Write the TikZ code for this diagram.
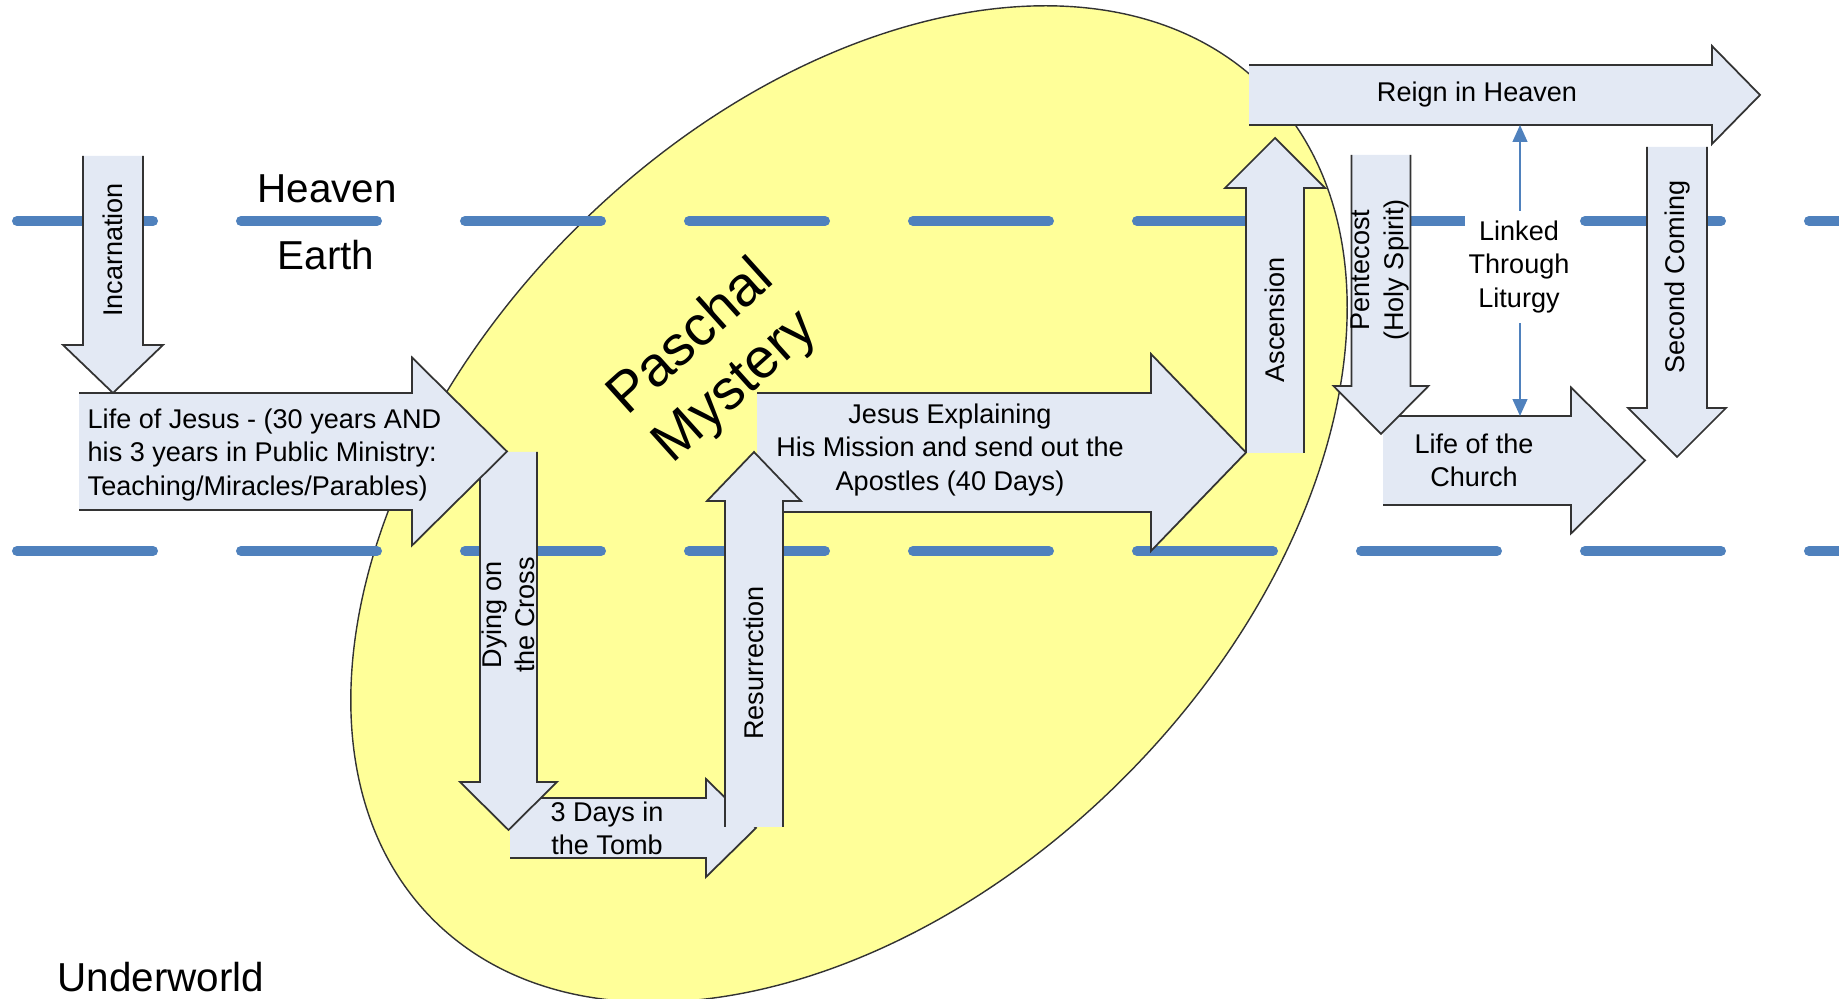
\documentclass[tikz,border=0pt]{standalone}
\usepackage{fontspec}
\setmainfont{Liberation Sans}
\usetikzlibrary{arrows.meta}

\definecolor{azullinha}{RGB}{79,129,189}
\definecolor{azulseta}{RGB}{227,233,244}
\definecolor{amarelo}{RGB}{255,255,153}

\tikzset{
  fundoseta/.style={fill=azulseta},
  bordaseta/.style={draw=black!80, line width=0.5pt},
  divisa/.style={azullinha, line width=2.85pt, line cap=round, dash pattern=on 13.6mm off 8.8mm},
  rotulo/.style={inner sep=0pt, align=center, font=\fontsize{7.7}{9.4}\selectfont},
  regiao/.style={inner sep=0pt, font=\fontsize{11.5}{13}\selectfont},
  ligacao/.style={azullinha, line width=0.5pt, {Triangle[length=4.8pt,width=4.2pt]}-{Triangle[length=4.8pt,width=4.2pt]}}
}

%Seta: #1 cauda, #2 comprimento, #3 cabeca, #4 meia haste, #5 meia cabeca, #6 angulo
\newcommand{\seta}[6]{%
  \fill[fundoseta, shift={#1}, rotate=#6] (0,-#4) -- ({#2-#3},-#4) -- ({#2-#3},-#5) -- (#2,0) -- ({#2-#3},#5) -- ({#2-#3},#4) -- (0,#4) -- cycle;
  \draw[bordaseta, shift={#1}, rotate=#6] (0,-#4) -- ({#2-#3},-#4) -- ({#2-#3},-#5) -- (#2,0) -- ({#2-#3},#5) -- ({#2-#3},#4) -- (0,#4);
}

\begin{document}
\begin{tikzpicture}[x=0.1mm, y=-0.1mm] %Coordenadas em pixels
	\useasboundingbox (0,0) rectangle (1839,999);
		%Misterio pascal
	\draw[fill=amarelo, draw=black!80, line width=0.4pt, rotate around={45:(849,504)}] (849,504) ellipse [x radius=588, y radius=388];
		%Divisas
	\draw[divisa] (17,221) -- (1839,221); %Ceu e Terra
	\draw[divisa] (17,551) -- (1839,551); %Terra e mundo inferior
		%Setas
	\seta{(113,156)}{237}{48}{30}{50}{-90} %Encarnacao
	\seta{(510,828)}{246}{50}{30}{49}{0} %Tres dias
	\seta{(508.5,452)}{378}{48}{28.5}{48.5}{-90} %Morte na cruz
	\seta{(79,451.5)}{428}{95}{58.5}{94}{0} %Vida de Jesus
	\seta{(757,452.5)}{489}{95}{59.5}{98.5}{0} %Missao
	\seta{(754,827)}{375}{49}{29}{47}{90} %Ressurreicao
	\seta{(1275,453)}{315}{50}{29}{50}{90} %Ascensao
	\seta{(1249,95)}{511}{48}{30}{49}{0} %Reino
	\seta{(1383,460.5)}{262}{74}{44.5}{73}{0} %Igreja
	\seta{(1381,155)}{279}{48}{29.5}{47.5}{-90} %Pentecostes
	\seta{(1677,147)}{310}{49}{30}{49}{-90} %Segunda vinda
		%Ligacao pela liturgia
	\coordinate (ligtopo) at (1520,125);
	\coordinate (ligbase) at (1520,416);
	\draw[ligacao] (ligtopo) -- (ligbase);
	\node[rotulo, fill=white, inner xsep=1pt, inner ysep=3pt] (liturgia) at (1519,267) {Linked\\Through\\Liturgy};
		%Regioes
	\node[regiao] (ceu) at (327,189) {Heaven};
	\node[regiao] (terra) at (326,255) {Earth};
	\node[regiao] (inferior) at (161,977) {Underworld};
	\node[inner sep=0pt, align=center, rotate=42, font=\fontsize{16}{18.8}\selectfont] (pascal) at (714,363) {Paschal\\Mystery};
		%Rotulos das setas
	\node[rotulo, rotate=90] (encarnacao) at (113,250) {Incarnation};
	\node[rotulo, align=left, anchor=west] (vida) at (87,455) {Life of Jesus - (30 years AND\\his 3 years in Public Ministry:\\Teaching/Miracles/Parables)};
	\node[rotulo, rotate=90] (cruz) at (508,615) {Dying on\\the Cross};
	\node[rotulo] (tumulo) at (607,828) {3 Days in\\the Tomb};
	\node[rotulo, rotate=90] (ressurreicao) at (754,663) {Resurrection};
	\node[rotulo] (missao) at (950,450) {Jesus Explaining\\His Mission and send out the\\Apostles (40 Days)};
	\node[rotulo, rotate=90] (ascensao) at (1275,320) {Ascension};
	\node[rotulo] (reino) at (1477,95) {Reign in Heaven};
	\node[rotulo, rotate=90] (pentecostes) at (1380,270) {Pentecost\\(Holy Spirit)};
	\node[rotulo] (igreja) at (1474,460) {Life of the\\Church};
	\node[rotulo, rotate=90] (vinda) at (1677,277) {Second Coming};
\end{tikzpicture}
\end{document}
